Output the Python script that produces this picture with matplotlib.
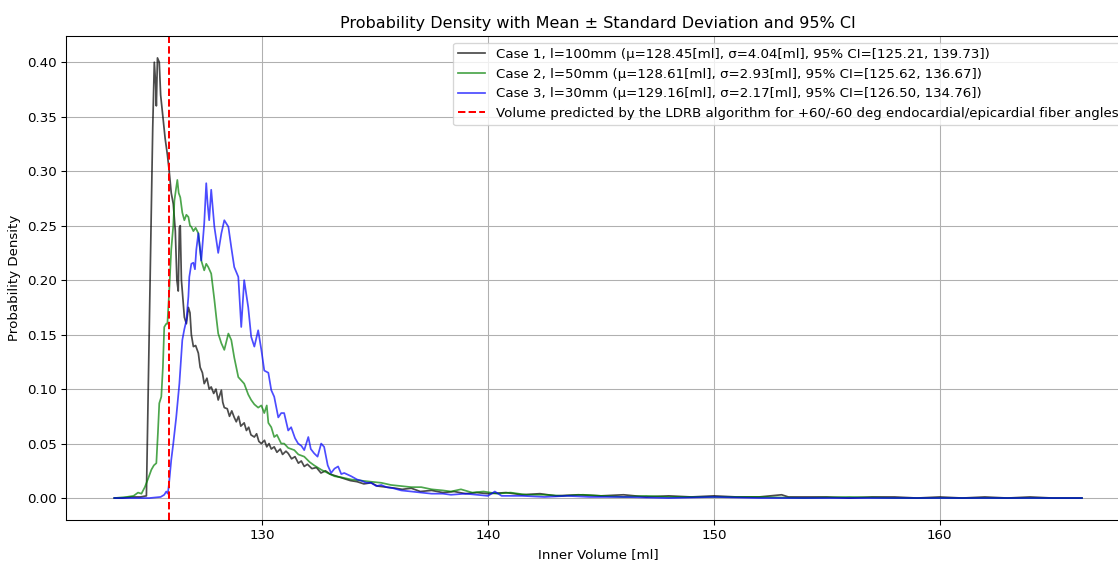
import matplotlib
matplotlib.use("Agg")
import matplotlib.pyplot as plt

# Case 1, l=100mm
vol_1 = [123.45, 123.8, 124.2, 124.6, 124.87, 124.95, 125.05, 125.15, 125.22, 125.28,
         125.31, 125.36, 125.44, 125.5, 125.6, 125.7, 125.8, 125.88, 125.97, 126.06,
         126.15, 126.22, 126.28, 126.33, 126.37, 126.42, 126.46, 126.55, 126.64, 126.73,
         126.8, 126.86, 126.95, 127.05, 127.17, 127.25, 127.35, 127.43, 127.55, 127.65,
         127.74, 127.85, 127.95, 128.05, 128.19, 128.25, 128.32, 128.45, 128.55, 128.65,
         128.76, 128.85, 128.95, 129.05, 129.2, 129.3, 129.4, 129.5, 129.65, 129.75,
         129.85, 129.96, 130.1, 130.2, 130.3, 130.4, 130.53, 130.65, 130.8, 130.9,
         131.05, 131.15, 131.3, 131.45, 131.6, 131.73, 131.86, 132.0, 132.2, 132.4,
         132.6, 132.8, 133.0, 133.3, 133.6, 133.9, 134.2, 134.5, 134.82, 135.1,
         135.5, 135.9, 136.2, 136.6, 137.0, 137.5, 138.0, 138.5, 139.0, 139.5,
         140.0, 140.8, 141.5, 142.3, 143.0, 144.0, 145.0, 146.0, 147.0, 148.0,
         149.0, 150.0, 151.0, 152.0, 153.0, 153.3, 154.0, 155.0, 156.0, 157.0,
         158.0, 159.0, 160.0, 161.0, 162.0, 163.0, 164.0, 165.0, 166.3]
dens_1 = [0.0, 0.0, 0.001, 0.001, 0.002, 0.10, 0.22, 0.34, 0.40, 0.38,
          0.36, 0.404, 0.40, 0.37, 0.35, 0.33, 0.315, 0.30, 0.28, 0.27,
          0.245, 0.20, 0.19, 0.248, 0.25, 0.20, 0.19, 0.166, 0.16, 0.175,
          0.17, 0.15, 0.139, 0.14, 0.133, 0.12, 0.115, 0.105, 0.11, 0.10,
          0.102, 0.096, 0.10, 0.09, 0.099, 0.088, 0.083, 0.082, 0.075, 0.08,
          0.074, 0.07, 0.075, 0.066, 0.069, 0.062, 0.065, 0.058, 0.056, 0.059,
          0.052, 0.05, 0.053, 0.047, 0.05, 0.045, 0.047, 0.042, 0.045, 0.04,
          0.043, 0.041, 0.036, 0.038, 0.032, 0.034, 0.029, 0.031, 0.027, 0.028,
          0.023, 0.025, 0.022, 0.02, 0.018, 0.016, 0.015, 0.013, 0.014, 0.011,
          0.01, 0.009, 0.008, 0.009, 0.006, 0.007, 0.005, 0.006, 0.004, 0.005,
          0.004, 0.005, 0.003, 0.004, 0.002, 0.003, 0.002, 0.003, 0.001, 0.002,
          0.001, 0.002, 0.001, 0.001, 0.003, 0.001, 0.001, 0.001, 0.0, 0.001,
          0.001, 0.0, 0.001, 0.0, 0.001, 0.0, 0.001, 0.0, 0.0]

# Case 2, l=50mm
vol_2 = [123.45, 124.0, 124.3, 124.5, 124.65, 124.8, 124.95, 125.09, 125.2, 125.31,
         125.38, 125.44, 125.53, 125.6, 125.66, 125.75, 125.8, 125.88, 125.97, 126.06,
         126.11, 126.19, 126.24, 126.3, 126.37, 126.46, 126.55, 126.64, 126.73, 126.8,
         126.86, 126.95, 127.05, 127.17, 127.3, 127.43, 127.52, 127.61, 127.74, 127.88,
         127.97, 128.05, 128.19, 128.32, 128.5, 128.63, 128.76, 128.94, 129.07, 129.2,
         129.38, 129.51, 129.65, 129.82, 129.96, 130.09, 130.2, 130.27, 130.4, 130.53,
         130.65, 130.84, 130.97, 131.15, 131.42, 131.6, 131.86, 132.1, 132.3, 132.61,
         132.9, 133.2, 133.5, 133.94, 134.38, 134.8, 135.27, 135.7, 136.15, 136.6,
         137.04, 137.5, 138.0, 138.36, 138.8, 139.3, 139.8, 140.4, 141.0, 141.7,
         142.5, 143.3, 144.2, 145.0, 146.0, 147.0, 148.0, 149.0, 150.0, 152.0,
         154.0, 156.0, 158.0, 160.0, 162.0, 164.0, 166.3]
dens_2 = [0.0, 0.001, 0.002, 0.005, 0.004, 0.01, 0.018, 0.026, 0.03, 0.032,
          0.06, 0.087, 0.093, 0.12, 0.157, 0.16, 0.16, 0.19, 0.228, 0.25,
          0.273, 0.285, 0.292, 0.28, 0.276, 0.262, 0.255, 0.26, 0.258, 0.25,
          0.249, 0.245, 0.248, 0.243, 0.218, 0.209, 0.215, 0.212, 0.206, 0.182,
          0.165, 0.151, 0.142, 0.136, 0.151, 0.145, 0.129, 0.111, 0.108, 0.105,
          0.095, 0.09, 0.086, 0.083, 0.085, 0.078, 0.085, 0.069, 0.065, 0.056,
          0.058, 0.05, 0.05, 0.046, 0.044, 0.04, 0.038, 0.033, 0.03, 0.026,
          0.023, 0.02, 0.019, 0.017, 0.016, 0.015, 0.014, 0.012, 0.011, 0.01,
          0.01, 0.008, 0.007, 0.006, 0.008, 0.005, 0.006, 0.004, 0.005, 0.003,
          0.003, 0.002, 0.003, 0.002, 0.001, 0.002, 0.001, 0.001, 0.001, 0.001,
          0.0, 0.001, 0.0, 0.0, 0.0, 0.0, 0.0]

# Case 3, l=30mm
vol_3 = [123.45, 124.5, 125.0, 125.5, 125.66, 125.75, 125.82, 125.88, 125.97, 126.06,
         126.19, 126.33, 126.46, 126.55, 126.64, 126.73, 126.77, 126.86, 126.95, 127.02,
         127.08, 127.17, 127.3, 127.43, 127.52, 127.58, 127.65, 127.74, 127.88, 128.05,
         128.19, 128.32, 128.5, 128.63, 128.76, 128.94, 129.07, 129.2, 129.38, 129.51,
         129.65, 129.82, 129.96, 130.09, 130.27, 130.4, 130.53, 130.71, 130.84, 130.97,
         131.15, 131.28, 131.45, 131.59, 131.73, 131.86, 132.04, 132.15, 132.3, 132.45,
         132.61, 132.74, 132.9, 133.05, 133.2, 133.36, 133.5, 133.63, 133.94, 134.2,
         134.38, 134.6, 134.82, 135.05, 135.27, 135.5, 135.8, 136.15, 136.6, 137.04,
         137.5, 138.0, 138.36, 139.0, 139.5, 140.0, 140.3, 140.6, 141.5, 142.5,
         143.5, 144.5, 146.0, 148.0, 150.0, 152.0, 154.0, 156.0, 158.0, 160.0,
         162.0, 164.0, 166.3]
dens_3 = [0.0, 0.0, 0.0, 0.001, 0.003, 0.006, 0.004, 0.015, 0.035, 0.05,
          0.074, 0.105, 0.145, 0.155, 0.163, 0.185, 0.203, 0.215, 0.216, 0.21,
          0.228, 0.243, 0.218, 0.252, 0.289, 0.27, 0.255, 0.283, 0.249, 0.225,
          0.243, 0.255, 0.249, 0.23, 0.212, 0.203, 0.157, 0.20, 0.175, 0.148,
          0.139, 0.154, 0.136, 0.117, 0.115, 0.099, 0.093, 0.074, 0.078, 0.078,
          0.062, 0.065, 0.055, 0.05, 0.048, 0.044, 0.056, 0.045, 0.041, 0.038,
          0.05, 0.047, 0.03, 0.023, 0.027, 0.029, 0.022, 0.023, 0.02, 0.017,
          0.016, 0.014, 0.014, 0.011, 0.012, 0.01, 0.009, 0.007, 0.006, 0.005,
          0.004, 0.004, 0.003, 0.004, 0.003, 0.002, 0.006, 0.002, 0.002, 0.001,
          0.002, 0.001, 0.001, 0.0, 0.001, 0.0, 0.0, 0.0, 0.0, 0.0,
          0.0, 0.0, 0.0]

ldrb_volume = 125.88

labels = [
    "Case 1, l=100mm (μ=128.45[ml], σ=4.04[ml], 95% CI=[125.21, 139.73])",
    "Case 2, l=50mm (μ=128.61[ml], σ=2.93[ml], 95% CI=[125.62, 136.67])",
    "Case 3, l=30mm (μ=129.16[ml], σ=2.17[ml], 95% CI=[126.50, 134.76])",
]
ldrb_label = "Volume predicted by the LDRB algorithm for +60/-60 deg endocardial/epicardial fiber angles"


def main():
    dpi = 96
    fig = plt.figure(figsize=(1118 / dpi, 561 / dpi), dpi=dpi)
    ax = fig.add_axes([0.059, 0.073, 0.952, 0.863])

    ax.plot(vol_1, dens_1, color="black", alpha=0.7, lw=1.3, label=labels[0])
    ax.plot(vol_2, dens_2, color="green", alpha=0.7, lw=1.3, label=labels[1])
    ax.plot(vol_3, dens_3, color="blue", alpha=0.7, lw=1.3, label=labels[2])
    ax.axvline(ldrb_volume, color="red", linestyle="--", lw=1.5, label=ldrb_label)

    ax.set_xticks([130, 140, 150, 160])
    ax.set_xlabel("Inner Volume [ml]")
    ax.set_ylabel("Probability Density")
    ax.set_title("Probability Density with Mean ± Standard Deviation and 95% CI")
    ax.legend(loc="upper right")
    ax.grid(True)

    fig.savefig("out.png", dpi=dpi)
    plt.close(fig)


if __name__ == "__main__":
    main()
